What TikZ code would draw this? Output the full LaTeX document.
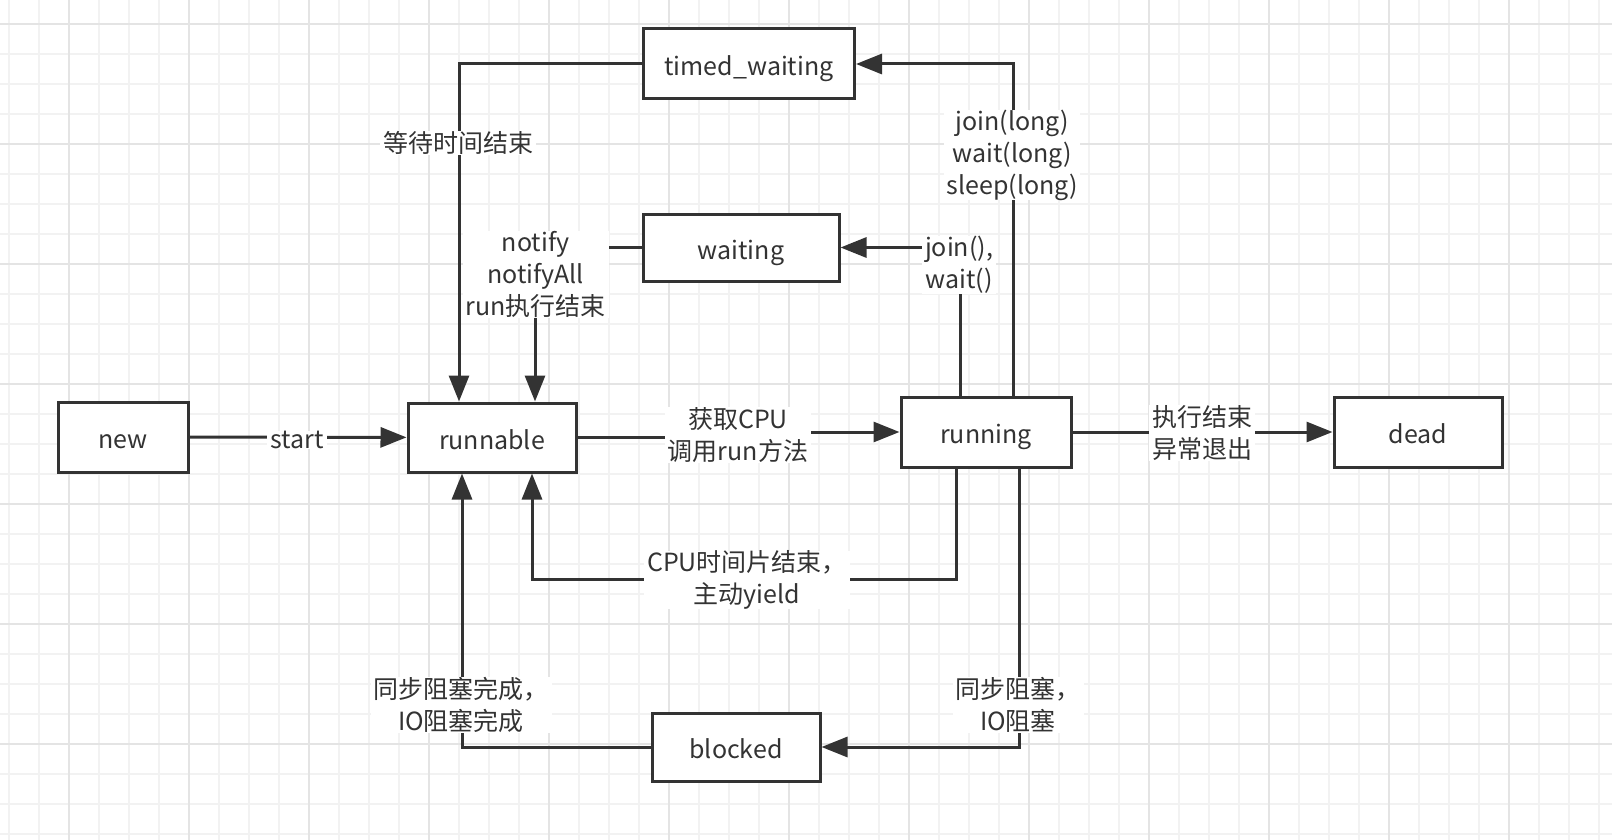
\documentclass[tikz,border=0pt]{standalone}
\usepackage{fontspec}
\setmainfont{Noto Sans CJK SC}
\usetikzlibrary{arrows.meta}
\definecolor{ln}{HTML}{333333}
\definecolor{gminor}{HTML}{F2F2F2}
\definecolor{gmajor}{HTML}{E4E4E4}
\begin{document}
\begin{tikzpicture}[x=1pt,y=-1pt,
  txt/.style={font=\fontsize{25pt}{32pt}\selectfont, text=ln},
  state/.style={txt, draw=ln, line width=3pt, fill=white, inner sep=0pt, text height=28pt, text depth=5pt},
  lbl/.style={txt, fill=white, align=center, inner xsep=3pt, inner ysep=0pt},
  arr/.style={draw=ln, line width=3pt, -{Triangle[length=26pt,width=20pt]}},
  gmin/.style={draw=gminor, line width=2pt},
  gmaj/.style={draw=gmajor, line width=2.2pt}]
\fill[white] (0,0) rectangle (1612,840);
\useasboundingbox (0,0) rectangle (1612,840);
% grid
\foreach \x in {9,39,...,1612} \draw[gmin] (\x,0) -- (\x,840);
\foreach \y in {24,54,...,840} \draw[gmin] (0,\y) -- (1612,\y);
\foreach \x in {69,189,...,1612} \draw[gmaj] (\x,0) -- (\x,840);
\foreach \y in {24,144,...,840} \draw[gmaj] (0,\y) -- (1612,\y);
% states
\node[state, minimum width=130pt, minimum height=70pt] (new) at (123,437) {new};
\node[state, minimum width=168pt, minimum height=69pt] (runnable) at (492,437.5) {runnable};
\node[state, minimum width=170pt, minimum height=70pt] (running) at (986,432) {running};
\node[state, minimum width=168pt, minimum height=70pt] (dead) at (1418,432) {dead};
\node[state, minimum width=211pt, minimum height=70pt] (timed) at (749,64) {timed\_waiting};
\node[state, minimum width=196pt, minimum height=67pt] (waiting) at (741,247.5) {waiting};
\node[state, minimum width=168pt, minimum height=68pt] (blocked) at (736,747) {blocked};
% connectors
\draw[arr] (new) -- (runnable);
\draw[arr] (runnable.east) -- ++(157,0) |- (running.west);
\draw[arr] (running) -- (dead);
\draw[arr] ([xshift=-26pt]running.north) |- (waiting.east);
\draw[arr] ([xshift=27pt]running.north) |- (timed.east);
\draw[arr] (timed.west) -| ([xshift=-33pt]runnable.north);
\draw[arr] (waiting.west) -| ([xshift=43pt]runnable.north);
\draw[arr] ([xshift=-30pt]running.south) -- ++(0,111) -| ([xshift=40pt]runnable.south);
\draw[arr] ([xshift=33pt]running.south) |- (blocked.east);
\draw[arr] (blocked.west) -| ([xshift=-30pt]runnable.south);
% labels
\node[lbl] (lstart) at (297,440) {start};
\node[lbl] (lcpu) at (738,435) {获取CPU\\调用run方法};
\node[lbl] (ldead) at (1202,433) {执行结束\\异常退出};
\node[lbl] (ljoin) at (959,265) {join(),\\wait()};
\node[lbl] (ljoinl) at (1012,155) {join(long)\\wait(long)\\sleep(long)};
\node[lbl] (lwaitend) at (458,143) {等待时间结束};
\node[lbl] (lnotify) at (535.6,274.5) {notify\\notifyAll\\run执行结束};
\node[lbl] (lyield) at (747,580) {CPU时间片结束，\\主动yield};
\node[lbl] (lbdone) at (461,705) {同步阻塞完成，\\IO阻塞完成};
\node[lbl] (lblock) at (1018,705) {同步阻塞，\\IO阻塞};
\end{tikzpicture}
\end{document}
